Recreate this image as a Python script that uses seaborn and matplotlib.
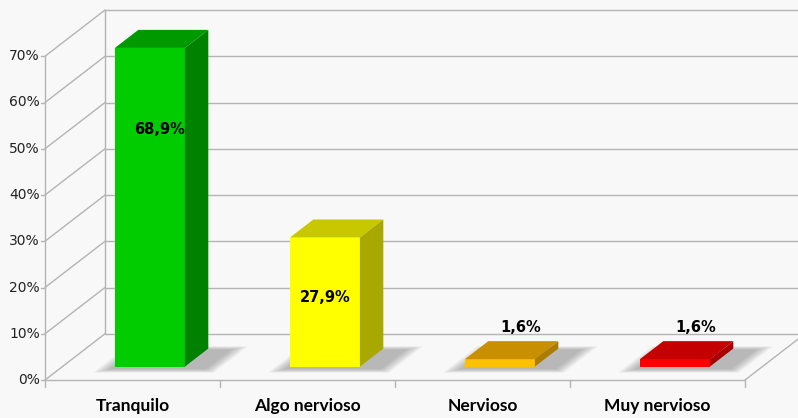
import matplotlib
matplotlib.use('Agg')
import matplotlib.pyplot as plt
from matplotlib.patches import Polygon
import numpy as np
import seaborn as sns

# === Data ===
categories = ["Tranquilo", "Algo nervioso", "Nervioso", "Muy nervioso"]
values = [68.9, 27.9, 1.6, 1.6]
labels = ["68,9%", "27,9%", "1,6%", "1,6%"]
yticks = [0, 10, 20, 30, 40, 50, 60, 70]

front_cols = ["#00cc00", "#ffff00", "#ffc000", "#ff0000"]
top_cols = ["#009a00", "#c8c800", "#c89000", "#c40000"]
side_cols = ["#008200", "#a8a800", "#ac7c00", "#a80000"]

# === 3D geometry (in data units of the front plane) ===
DX, DY = 0.343, 10.0        # full depth of the floor / back wall offset
D0, D1 = 0.29, 0.68         # bar depth span (fraction of full depth)
BAR_W = 0.4
YTOP = 70
BG = "#f8f8f8"
GRID = "#b4b4b4"

sns.set_theme(style="white")
plt.rcParams['font.family'] = ['DejaVu Sans']

fig = plt.figure(figsize=(7.98, 4.18), dpi=100, facecolor=BG)
ax = fig.add_axes([0, 0, 1, 1])
ax.set_facecolor(BG)

sns.barplot(x=categories, y=values, hue=categories, palette=front_cols,
            width=BAR_W, saturation=1, linewidth=0, legend=False, ax=ax,
            zorder=5)

def fp(x, d, y=0.0):
    """point on a plane at depth fraction d"""
    return (x + d * DX, y + d * DY)

# back wall gridlines + left wall diagonals
for v in yticks:
    ax.plot([-0.5 + DX, 3.5 + DX * 2], [v + DY, v + DY], color=GRID, lw=1, zorder=1)
    ax.plot([-0.5, -0.5 + DX], [v, v + DY], color=GRID, lw=1, zorder=1)
    ax.plot([-0.5 - 0.025, -0.5], [v, v], color=GRID, lw=1, zorder=1)
    ax.text(-0.53, v, f"{v}%", ha="right", va="center", fontsize=10, color="#222222")
ax.plot([-0.5 + DX, -0.5 + DX], [DY, YTOP + DY], color=GRID, lw=1, zorder=1)
ax.plot([-0.5, -0.5], [0, YTOP], color=GRID, lw=1, zorder=1)
# floor
ax.plot([-0.5, len(categories) - 0.5], [0, 0], color=GRID, lw=1, zorder=1)
ax.plot([len(categories) - 0.5, len(categories) - 0.5 + DX], [0, DY], color=GRID, lw=1, zorder=1)
for i in range(len(categories) + 1):
    ax.plot([i - 0.5, i - 0.5], [0, -1.5], color=GRID, lw=1, zorder=1)

# shift front faces back onto the floor and add top/side faces + shadows
bx, by = (D1 - D0) * DX, (D1 - D0) * DY
ox, oy = D0 * DX, D0 * DY
for i, p in enumerate(ax.patches):
    x0 = p.get_x() + ox
    w = p.get_width()
    h = p.get_height()
    p.set_x(x0)
    p.set_y(oy)
    c = x0 + w / 2 - ox      # category centre on the front plane
    fc = x0 + w / 2          # centre of the bar's front face

    # soft shadow on the floor
    for e in np.linspace(0.0, 0.07, 8):
        xa, xb = c - w / 2 - 0.01 - e, c + w / 2 + 0.14 + e
        da, db = D0 - 0.06 - e, D1 - 0.02 + e
        poly = [fp(xa, da), fp(xb, da), fp(xb, db), fp(xa, db)]
        ax.add_patch(Polygon(poly, closed=True, facecolor="#6a6a6a",
                             alpha=0.065, lw=0, zorder=2))

    top = [(x0, oy + h), (x0 + w, oy + h), (x0 + w + bx, oy + h + by), (x0 + bx, oy + h + by)]
    side = [(x0 + w, oy), (x0 + w + bx, oy + by), (x0 + w + bx, oy + h + by), (x0 + w, oy + h)]
    ax.add_patch(Polygon(top, closed=True, facecolor=top_cols[i], lw=0, zorder=6))
    ax.add_patch(Polygon(side, closed=True, facecolor=side_cols[i], lw=0, zorder=6))

    # value labels
    if h > 10:
        lx = fc + (0.055 if h > 50 else 0.0)
        ly = oy + h * (0.745 if h > 50 else 0.535)
        ax.text(lx, ly, labels[i], ha="center", va="center", fontsize=10.5,
                fontweight="bold", color="black", zorder=8)
    else:
        ax.text(fc + bx / 2 + 0.05, oy + h + by + 2.9, labels[i], ha="center",
                va="center", fontsize=10.5, fontweight="bold", color="black", zorder=8)

    ax.text(c, -5.6, categories[i], ha="center", va="center", fontsize=12.5,
            fontweight="bold", color="black", family=["Lato", "DejaVu Sans"])

# map: x px = 45 + (x + 0.5) * 175, y px = 380 - y * 4.625
ax.set_xlim((0 - 45) / 175 - 0.5, (798 - 45) / 175 - 0.5)
ax.set_ylim(-(418 - 380) / 4.625, 380 / 4.625)
ax.axis("off")

fig.savefig("out.png", dpi=100, facecolor=BG)
